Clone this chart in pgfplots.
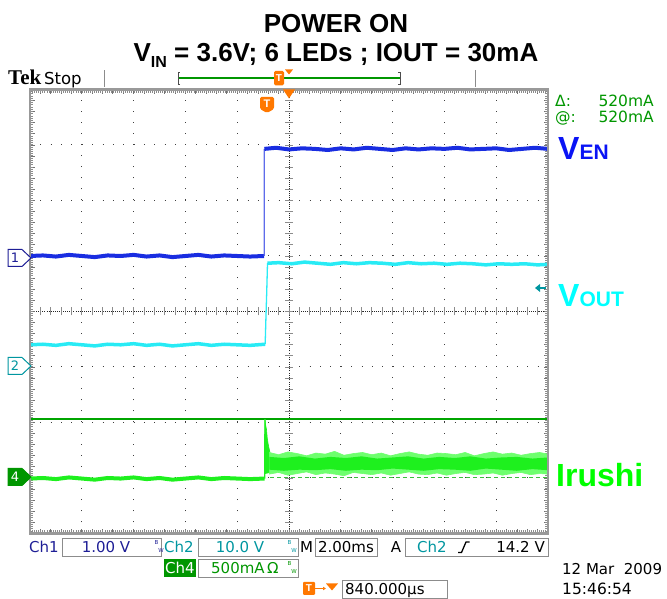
\documentclass[border=0pt]{standalone}
\usepackage{pgfplots}
\pgfplotsset{compat=1.18}
\usetikzlibrary{arrows.meta}
\usepackage{fontspec}
\setmainfont{Liberation Sans}
\newfontfamily\dv{DejaVu Sans}
\newfontfamily\tekserif{Liberation Serif}
\definecolor{chblue}{RGB}{25,45,225}
\definecolor{chcyan}{RGB}{40,235,245}
\definecolor{chgreen}{RGB}{30,240,30}
\definecolor{bandlight}{RGB}{110,255,110}
\definecolor{navy}{RGB}{30,30,150}
\definecolor{tealc}{RGB}{0,150,160}
\definecolor{dgreen}{RGB}{0,150,0}
\definecolor{orng}{RGB}{255,120,0}
\definecolor{vblue}{RGB}{10,20,245}
\definecolor{vcyan}{RGB}{0,255,255}
\definecolor{vgreen}{RGB}{0,255,0}
\begin{document}
\begin{tikzpicture}
\begin{scope}[x=1pt,y=1pt]
\path (0,0) rectangle (667,599);
% ---------- grid (screen 30..548 x 65.5..509.5) ----------
\foreach \i in {1,...,9}{
  \draw[black!75, line width=1pt, dash pattern=on 1pt off 10.1pt] ({30+51.8*\i},65.5) -- ({30+51.8*\i},509.5);
}
\foreach \j in {1,...,7}{
  \draw[black!75, line width=1pt, dash pattern=on 1pt off 9.36pt] (30,{65.5+55.5*\j}) -- (548,{65.5+55.5*\j});
}
% centre lines
\draw[black!85, line width=0.9pt, dash pattern=on 1pt off 1.07pt] (30,287.5) -- (548,287.5);
\draw[black!85, line width=0.9pt, dash pattern=on 1pt off 1.22pt] (289,65.5) -- (289,509.5);
\foreach \k in {1,...,49}{
  \draw[black!45, line width=0.8pt] ({30+10.36*\k},283.5) -- ({30+10.36*\k},291.5);
}
\foreach \k in {1,...,39}{
  \draw[black!45, line width=0.8pt] (285,{65.5+11.1*\k}) -- (293,{65.5+11.1*\k});
}
% frame ticks
\foreach \k in {1,...,49}{
  \draw[black!55, line width=0.8pt] ({30+10.36*\k},65.5) -- ++(0,4.5);
  \draw[black!55, line width=0.8pt] ({30+10.36*\k},509.5) -- ++(0,-4.5);
}
\foreach \k in {1,...,39}{
  \draw[black!55, line width=0.8pt] (30,{65.5+11.1*\k}) -- ++(4.5,0);
  \draw[black!55, line width=0.8pt] (548,{65.5+11.1*\k}) -- ++(-4.5,0);
}
\draw[black!45, line width=2.5pt, dash pattern=on 0.6pt off 1.47pt] (30,67.5) -- (548,67.5);
\draw[black!45, line width=2.5pt, dash pattern=on 0.6pt off 1.47pt] (30,507.5) -- (548,507.5);
\draw[black!45, line width=2.5pt, dash pattern=on 0.6pt off 1.62pt] (32,65.5) -- (32,509.5);
\draw[black!45, line width=2.5pt, dash pattern=on 0.6pt off 1.62pt] (546,65.5) -- (546,509.5);
\end{scope}
% ---------- traces ----------
\begin{axis}[at={(30pt,65.5pt)}, anchor=south west, scale only axis,
  width=518pt, height=444pt, xmin=0, xmax=10, ymin=0, ymax=8,
  axis line style={draw=none}, ticks=none, clip=true]
% green cursors
\addplot[draw={rgb,255:red,0;green,165;blue,0}, line width=1.4pt] coordinates {(0,2.06)(10,2.06)};
% Ch1 (blue)
\addplot[chblue, line width=4pt] coordinates {(0,5.00)(0.25,5.01)(0.5,4.99)(0.75,5.02)(1.0,5.00)(1.25,4.98)(1.5,5.01)(1.75,5.00)(2.0,5.02)(2.25,4.99)(2.5,5.01)(2.75,4.98)(3.0,5.00)(3.25,5.02)(3.5,4.99)(3.75,5.01)(4.0,5.00)(4.25,4.99)(4.52,5.00)};
\addplot[chblue!70!white, line width=1.2pt] coordinates {(4.522,5.00)(4.524,6.93)};
\addplot[chblue, line width=4pt] coordinates {(4.525,6.93)(4.75,6.95)(5.0,6.92)(5.25,6.94)(5.5,6.93)(5.75,6.91)(6.0,6.94)(6.25,6.92)(6.5,6.95)(6.75,6.93)(7.0,6.91)(7.25,6.94)(7.5,6.92)(7.75,6.94)(8.0,6.93)(8.25,6.95)(8.5,6.92)(8.75,6.93)(9.0,6.94)(9.25,6.91)(9.5,6.93)(9.75,6.95)(10,6.93)};
% Ch2 (cyan)
\addplot[chcyan, line width=3.5pt] coordinates {(0,3.40)(0.25,3.41)(0.5,3.39)(0.75,3.42)(1.0,3.40)(1.25,3.38)(1.5,3.41)(1.75,3.40)(2.0,3.42)(2.25,3.39)(2.5,3.41)(2.75,3.38)(3.0,3.40)(3.25,3.42)(3.5,3.39)(3.75,3.41)(4.0,3.40)(4.25,3.39)(4.54,3.41)};
\addplot[chcyan, line width=1.3pt] coordinates {(4.54,3.41)(4.555,3.9)(4.57,4.35)(4.585,4.87)};
\addplot[chcyan, line width=3.5pt] coordinates {(4.585,4.87)(4.8,4.88)(5.05,4.86)(5.3,4.89)(5.55,4.87)(5.8,4.85)(6.05,4.88)(6.3,4.86)(6.55,4.88)(6.8,4.87)(7.05,4.85)(7.3,4.88)(7.55,4.86)(7.8,4.87)(8.05,4.85)(8.3,4.87)(8.55,4.86)(8.8,4.84)(9.05,4.86)(9.3,4.85)(9.55,4.86)(9.8,4.84)(10,4.85)};
% Ch4 (green)
\addplot[chgreen, line width=4pt] coordinates {(0,0.99)(0.25,1.00)(0.5,0.98)(0.75,1.01)(1.0,0.99)(1.25,0.97)(1.5,1.00)(1.75,0.99)(2.0,1.01)(2.25,0.98)(2.5,1.00)(2.75,0.97)(3.0,0.99)(3.25,1.01)(3.5,0.98)(3.75,1.00)(4.0,0.99)(4.25,0.98)(4.53,0.99)};
\addplot[chgreen, line width=1.2pt] coordinates {(4.53,0.99)(4.535,2.06)};
\addplot[fill=chgreen, draw=chgreen, line width=0.6pt] coordinates {(4.535,2.06)(4.55,1.95)(4.565,1.88)(4.58,1.72)(4.60,1.60)(4.63,1.47)(4.63,1.10)(4.54,1.08)} -- cycle;
\addplot[fill=bandlight, draw=bandlight, line width=0.6pt] coordinates {(4.62,1.46)(4.80,1.42)(4.98,1.47)(5.16,1.44)(5.34,1.40)(5.52,1.45)(5.70,1.43)(5.88,1.48)(6.06,1.41)(6.24,1.44)(6.42,1.46)(6.60,1.42)(6.78,1.45)(6.96,1.40)(7.14,1.44)(7.32,1.47)(7.50,1.43)(7.68,1.41)(7.86,1.45)(8.04,1.44)(8.22,1.42)(8.40,1.46)(8.58,1.40)(8.76,1.44)(8.94,1.47)(9.12,1.43)(9.30,1.45)(9.48,1.41)(9.66,1.44)(9.84,1.46)(10,1.43)(10,1.07)(9.84,1.08)(9.66,1.06)(9.48,1.10)(9.30,1.08)(9.12,1.05)(8.94,1.09)(8.76,1.07)(8.58,1.06)(8.40,1.10)(8.22,1.08)(8.04,1.05)(7.86,1.09)(7.68,1.06)(7.50,1.07)(7.32,1.11)(7.14,1.08)(6.96,1.05)(6.78,1.09)(6.60,1.06)(6.42,1.08)(6.24,1.10)(6.06,1.04)(5.88,1.07)(5.70,1.09)(5.52,1.06)(5.34,1.11)(5.16,1.08)(4.98,1.05)(4.80,1.10)(4.62,1.07)} -- cycle;
\addplot[fill=chgreen, draw=none] coordinates {(4.62,1.38)(4.90,1.36)(5.20,1.39)(5.50,1.35)(5.80,1.38)(6.10,1.36)(6.40,1.39)(6.70,1.35)(7.00,1.37)(7.30,1.39)(7.60,1.35)(7.90,1.38)(8.20,1.36)(8.50,1.39)(8.80,1.35)(9.10,1.37)(9.40,1.38)(9.70,1.35)(10,1.37)(10,1.14)(9.70,1.16)(9.40,1.13)(9.10,1.15)(8.80,1.17)(8.50,1.13)(8.20,1.15)(7.90,1.16)(7.60,1.13)(7.30,1.15)(7.00,1.17)(6.70,1.14)(6.40,1.15)(6.10,1.13)(5.80,1.16)(5.50,1.14)(5.20,1.15)(4.90,1.13)(4.62,1.15)} -- cycle;
\addplot[draw={rgb,255:red,60;green,190;blue,60}, line width=1.3pt, dash pattern=on 4pt off 3pt] coordinates {(4.64,1.01)(10,1.01)};
\end{axis}
\begin{scope}[x=1pt,y=1pt]
% frame
\draw[black!40, line width=2.5pt] (30,65.5) rectangle (548,509.5);
% trigger markers in screen
\fill[orng] (283,509.5) -- (295,509.5) -- (289,500.5) -- cycle;
\fill[orng, rounded corners=1.5pt] (260,502) -- (274,502) -- (274,490) -- (267,486) -- (260,490) -- cycle;
\node[white, font=\bfseries\fontsize{11}{11}\selectfont] at (267,495) {T};
% ---------- top bar ----------
\node[anchor=base west, inner sep=0pt, font=\tekserif\bfseries\fontsize{21}{21}\selectfont] at (8,514) {Tek};
\node[anchor=base west, inner sep=0pt, font=\dv\fontsize{16.5}{17}\selectfont] at (44,514) {Stop};
\draw[black!45, line width=1pt] (104,512) -- (104,529);
\draw[black!45, line width=1pt] (475,512) -- (475,529);
\draw[dgreen, line width=1.2pt] (178,521) -- (400,521);
\draw[black!70, line width=0.8pt] (180,515) -- (178,515) -- (178,527) -- (180,527);
\draw[black!70, line width=0.8pt] (398,515) -- (400,515) -- (400,527) -- (398,527);
\fill[orng, rounded corners=1.5pt] (274,513.5) rectangle (284,528);
\node[white, font=\bfseries\fontsize{10}{10}\selectfont] at (279,520.5) {T};
\fill[orng] (285,529.5) -- (293,529.5) -- (289,524.5) -- cycle;
% ---------- title ----------
\node[anchor=base, inner sep=0pt, font=\bfseries\fontsize{26}{30}\selectfont] at (336,566) {POWER ON};
\node[anchor=base, inner sep=0pt, font=\bfseries\fontsize{26}{30}\selectfont] at (336,537) {V\raisebox{-0.2em}{\fontsize{16}{16}\selectfont IN} = 3.6V; 6 LEDs ; IOUT = 30mA};
% ---------- right side ----------
\node[anchor=base west, inner sep=0pt, dgreen, font=\dv\fontsize{15.5}{16}\selectfont] at (555,492.5) {Δ:};
\node[anchor=base east, inner sep=0pt, dgreen, font=\dv\fontsize{15.5}{16}\selectfont] at (654,492.5) {520mA};
\node[anchor=base west, inner sep=0pt, dgreen, font=\dv\fontsize{15.5}{16}\selectfont] at (555,476.5) {@:};
\node[anchor=base east, inner sep=0pt, dgreen, font=\dv\fontsize{15.5}{16}\selectfont] at (654,476.5) {520mA};
\node[anchor=base west, inner sep=0pt, vblue, font=\bfseries\fontsize{32}{32}\selectfont] at (558,439) {V{\fontsize{21}{21}\selectfont EN}};
\node[anchor=base west, inner sep=0pt, vcyan, font=\bfseries\fontsize{32}{32}\selectfont] at (558,292) {V{\fontsize{21}{21}\selectfont OUT}};
\node[anchor=base west, inner sep=0pt, vgreen, font=\bfseries\fontsize{32}{32}\selectfont] at (556,112) {Irushi};
\fill[tealc] (535,311) -- (540,315) -- (540,307) -- cycle;
\draw[tealc, line width=1.2pt] (539,311) -- (546,311);
% ---------- left channel markers ----------
\draw[navy, line width=1pt, fill=white] (8,332.5) -- (22,332.5) -- (31,341) -- (22,349.5) -- (8,349.5) -- cycle;
\node[navy, font=\dv\fontsize{13}{13}\selectfont] at (15,341) {1};
\draw[tealc, line width=1pt, fill=white] (8,224.5) -- (22,224.5) -- (31,233) -- (22,241.5) -- (8,241.5) -- cycle;
\node[tealc, font=\dv\fontsize{13}{13}\selectfont] at (15,233) {2};
\draw[dgreen, line width=1pt, fill=dgreen] (8,113.5) -- (22,113.5) -- (31,122) -- (22,130.5) -- (8,130.5) -- cycle;
\node[white, font=\dv\fontsize{13}{13}\selectfont] at (15,122) {4};
% ---------- bottom readouts ----------
\tikzset{bx/.style={draw=black!45, line width=0.8pt, fill=white}, rd/.style={anchor=base west, inner sep=0pt, font=\dv\fontsize{15}{15}\selectfont}, bw/.style={inner sep=0pt, font=\dv\fontsize{5.5}{5.5}\selectfont}}
\node[rd, navy] at (29,46.5) {Ch1};
\draw[bx] (62,43) rectangle (161,61);
\node[rd, navy, anchor=base] at (106,46.5) {1.00 V};
\node[bw, navy] at (156.5,56.5) {B};
\node[bw, navy] at (161,49) {W};
\node[rd, tealc] at (164,46.5) {Ch2};
\draw[bx] (198,43) rectangle (298,61);
\node[rd, tealc, anchor=base] at (240,46.5) {10.0 V};
\node[bw, tealc] at (289.5,56.5) {B};
\node[bw, tealc] at (294,49) {W};
\node[rd] at (300,46.5) {M};
\draw[bx] (315,43) rectangle (377,61);
\node[rd, anchor=base] at (346,46.5) {2.00ms};
\node[rd, anchor=base] at (396,46.5) {A};
\draw[bx] (405,43) rectangle (548,61);
\node[rd, tealc] at (417,46.5) {Ch2};
\draw[black, line width=1.3pt] (458,46.5) -- (461.5,46.5) -- (466,57) -- (469.5,57);
\node[rd, anchor=base east] at (545,46.5) {14.2 V};
\fill[dgreen] (164,22) rectangle (196,40);
\node[rd, white] at (165,25.5) {Ch4};
\draw[bx] (198,22) rectangle (298,40);
\node[rd, dgreen] at (211,25.5) {500mA\,Ω};
\node[bw, dgreen] at (289.5,35.5) {B};
\node[bw, dgreen] at (294,28) {W};
\fill[orng, rounded corners=1pt] (303,4) rectangle (315,17);
\node[white, font=\bfseries\fontsize{10}{10}\selectfont] at (309,10.5) {T};
\draw[orng, line width=1.2pt, -{Latex[length=3pt,width=4pt]}] (315,10.5) -- (326,10.5);
\fill[orng] (326,15.5) -- (338,15.5) -- (332,8.5) -- cycle;
\draw[bx] (342,1) rectangle (447,19);
\node[rd] at (345,4.5) {840.000µs};
\node[rd, font=\dv\fontsize{15}{15}\selectfont] at (562,24) {12 Mar\ \ 2009};
\node[rd, font=\dv\fontsize{15.5}{16}\selectfont] at (562,4.5) {15:46:54};
\end{scope}
\end{tikzpicture}
\end{document}
